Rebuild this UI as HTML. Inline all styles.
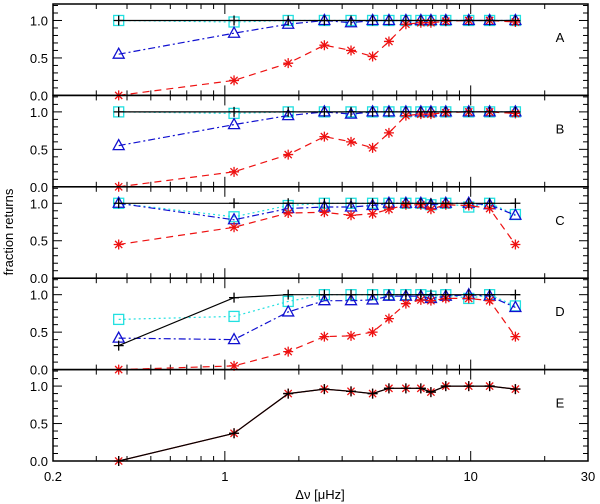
<!DOCTYPE html>
<html><head><meta charset="utf-8"><style>
html,body{margin:0;padding:0;background:#fff;}
svg{display:block;font-family:"Liberation Sans",sans-serif;}
</style></head><body>
<svg id="chart" width="600" height="504" viewBox="0 0 600 504" xmlns="http://www.w3.org/2000/svg"></svg>
<script>
const xValues=[0.37,1.09,1.81,2.54,3.26,3.99,4.65,5.45,6.27,6.89,7.92,9.82,11.94,15.2];
const panelLabels=["A","B","C","D","E"];
const blackA=[1,1,1,1,1,1,1,1,1,1,1,1,1,1];
const cyanA=[1,0.98,1,1,1,1,1,1,1,1,1,1,1,1];
const blueA=[0.55,0.83,0.95,1,0.97,1,1,1,1,1,1,1,1,1];
const redA=[0,0.2,0.43,0.67,0.6,0.52,0.72,0.95,0.97,0.97,0.99,1,1,0.98];
const blackB=[1,1,1,1,1,1,1,1,1,1,1,1,1,1];
const cyanB=[1,0.98,1,1,1,1,1,1,1,1,1,1,1,1];
const blueB=[0.55,0.83,0.95,1,0.97,1,1,1,1,1,1,1,1,1];
const redB=[0,0.2,0.43,0.67,0.6,0.52,0.72,0.95,0.97,0.97,0.99,1,1,0.98];
const blackC=[1,1,1,1,1,1,1,1,1,1,1,1,1,1];
const cyanC=[1,0.82,0.97,1,1,1,1,1,1,0.98,1,0.95,1,0.85];
const blueC=[1,0.78,0.93,0.95,0.95,0.97,1,1,1,0.98,1,1,0.98,0.84];
const redC=[0.45,0.68,0.87,0.88,0.84,0.86,0.92,0.98,0.98,0.92,0.98,0.97,0.93,0.45];
const blackD=[0.32,0.96,1,1,1,1,1,1,1,1,1,1,1,1];
const cyanD=[0.67,0.71,0.91,1,1,1,1,1,1,0.98,1,0.95,1,0.85];
const blueD=[0.42,0.4,0.77,0.92,0.92,0.93,0.98,0.98,0.98,0.95,0.98,1,0.98,0.83];
const redD=[0,0.05,0.24,0.44,0.45,0.5,0.68,0.88,0.93,0.92,0.95,0.95,0.92,0.44];
const redE=[0,0.37,0.9,0.96,0.93,0.9,0.97,0.97,0.97,0.92,1,1,1,0.96];
const yTicks=[0,0.5,1.0];
const yTickLabels=["0.0","0.5","1.0"];
const xTickLabels=[0.2,1,10,30];

const NS="http://www.w3.org/2000/svg";
const svg=document.getElementById('chart');
const L=53,R=588,T=4,B=461,PH=(B-T)/5,YMAX=1.22;
function xs(v){return L+(Math.log10(v)-Math.log10(0.2))/(Math.log10(30)-Math.log10(0.2))*(R-L);}
function ys(p,v){return T+(p+1)*PH-v/YMAX*PH;}
function el(tag,attrs,parent){const e=document.createElementNS(NS,tag);for(const k in attrs)e.setAttribute(k,attrs[k]);(parent||svg).appendChild(e);return e;}

const series=[
 [cyanA,blueA,redA,blackA],[cyanB,blueB,redB,blackB],[cyanC,blueC,redC,blackC],[cyanD,blueD,redD,blackD]
];
const styles=[
 {name:'cyan',color:'#22e0e0',dash:'2 3',marker:'square'},
 {name:'blue',color:'#1010d0',dash:'7 3 2 3',marker:'triangle'},
 {name:'red',color:'#ee1111',dash:'7 5',marker:'star'},
 {name:'black',color:'#000',dash:'',marker:'plus'}
];
function marker(g,type,cx,cy,color){
 if(type==='plus'){el('path',{d:`M${cx-5} ${cy}H${cx+5}M${cx} ${cy-5}V${cy+5}`,stroke:color,'stroke-width':1.3},g);}
 else if(type==='square'){el('rect',{x:cx-5,y:cy-5,width:10,height:10,fill:'none',stroke:color,'stroke-width':1.3},g);}
 else if(type==='triangle'){el('path',{d:`M${cx} ${cy-6}L${cx+5.5} ${cy+4}L${cx-5.5} ${cy+4}Z`,fill:'none',stroke:color,'stroke-width':1.3},g);}
 else {el('path',{d:`M${cx-5} ${cy}H${cx+5}M${cx} ${cy-5}V${cy+5}M${cx-3.6} ${cy-3.6}L${cx+3.6} ${cy+3.6}M${cx-3.6} ${cy+3.6}L${cx+3.6} ${cy-3.6}`,stroke:color,'stroke-width':1.3},g);}
}
function drawSeries(p,data,st,label){
 const g=el('g',{});
 
 
 const pts=data.map((v,i)=>xs(xValues[i]).toFixed(1)+','+ys(p,v).toFixed(1)).join(' ');
 el('polyline',{points:pts,fill:'none',stroke:st.color,'stroke-width':1.2,'stroke-dasharray':st.dash},g);
 data.forEach((v,i)=>marker(g,st.marker,xs(xValues[i]),ys(p,v),st.color));
}
const minors=[0.3,0.4,0.5,0.6,0.7,0.8,0.9,2,3,4,5,6,7,8,9,20];
for(let p=0;p<5;p++){
 const top=T+p*PH,bot=top+PH;
 const pg=el('g',{});
 
 
 el('rect',{x:L,y:top,width:R-L,height:PH,fill:'none',stroke:'#000','stroke-width':1.5},pg);
 for(let k=0;k<=12;k++){const v=k/10;const y=ys(p,v);const len=(k%5===0)?9:5;
  el('line',{x1:L,x2:L+len,y1:y,y2:y,stroke:'#000'},pg);el('line',{x1:R,x2:R-len,y1:y,y2:y,stroke:'#000'},pg);}
 yTicks.forEach((v,i)=>{const t=el('text',{x:L-5,y:ys(p,v)+5,'text-anchor':'end','font-size':13},pg);t.textContent=yTickLabels[i];
  });
 minors.forEach(v=>{const x=xs(v);el('line',{x1:x,x2:x,y1:bot,y2:bot-5,stroke:'#000'},pg);el('line',{x1:x,x2:x,y1:top,y2:top+5,stroke:'#000'},pg);});
 [1,10].forEach(v=>{const x=xs(v);el('line',{x1:x,x2:x,y1:bot,y2:bot-10,stroke:'#000'},pg);el('line',{x1:x,x2:x,y1:top,y2:top+10,stroke:'#000'},pg);});
 const lt=el('text',{x:560,y:top+38,'font-size':13,'text-anchor':'middle'},pg);lt.textContent=panelLabels[p];
 
 if(p<4){series[p].forEach((d,i)=>drawSeries(p,d,styles[i],styles[i].name+'-series-'+panelLabels[p].toLowerCase()));}
 else{
  drawSeries(p,redE,{color:'#ee1111',dash:'',marker:'star'},'red-series-e');
  drawSeries(p,redE,{color:'#000',dash:'',marker:'plus'},'black-series-e');
 }
}
xTickLabels.forEach(v=>{const t=el('text',{x:xs(v),y:481,'text-anchor':'middle','font-size':13});t.textContent=String(v);
 });
const xt=el('text',{x:320,y:499,'text-anchor':'middle','font-size':13});xt.textContent='Δν  [μHz]';

const yt=el('text',{x:13,y:232,'text-anchor':'middle','font-size':13,transform:'rotate(-90 13 232)'});yt.textContent='fraction  returns';

</script>
</body></html>
